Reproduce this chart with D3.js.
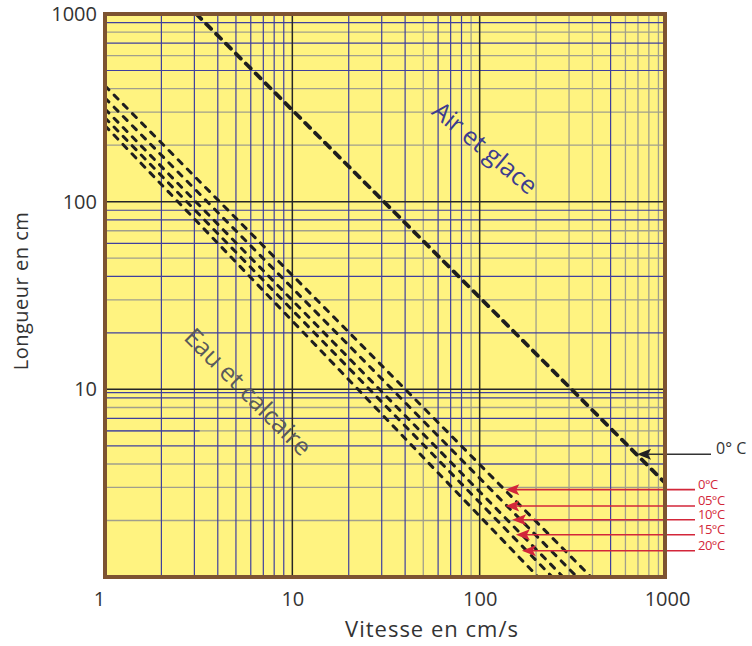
<!DOCTYPE html>
<html>
<head>
<meta charset="utf-8">
<script src="https://cdn.jsdelivr.net/npm/d3@7"></script>
<style>
  body { margin: 0; background: #fff; }
  svg text { font-family: "Open Sans", "DejaVu Sans", sans-serif; }
</style>
</head>
<body>
<svg id="chart" width="752" height="646"></svg>
<script>
'use strict';

// axis ticks
const xTicks = [1, 10, 100, 1000];
const yTicks = [10, 100, 1000];

// grid lines, grouped by the colour they are printed in
const vGridBlack = [10, 100];
const vGridBlue = [2, 3, 4, 5, 6, 7, 8, 9, 20, 30, 40, 60, 70, 80, 500];
const vGridGrey = [50, 90, 200, 300, 400, 600, 700, 800, 900];
const hGridBlack = [10, 100];
const hGridBlue = [9.6, 9, 7, 5, 90, 80, 60, 40, 20, 900, 700, 500];
const hGridGrey = [8, 6, 4, 3, 2, 70, 50, 30, 800, 600, 400, 300, 200];
const hGridBlueParts = [[6, 1, 3.2], [4, 100, 1000]]; // [length, from speed, to speed]

// "Air et glace" line : two ends
const airSpeeds = [3.07, 1000];
const airLengths = [1000, 3.1];
const airArrowSpeed = 692;
const airArrowLength = 4.51;
const airArrowLabel = '0° C';

// "Eau et calcaire" lines, one per temperature
const waterTemps = ['0°C', '05°C', '10°C', '15°C', '20°C'];
const waterLenAtV1 = [414, 357, 312, 280, 254];
const waterSpeedAtL1 = [393, 331, 279, 244, 205];
const arrowSpeeds = [137, 137, 149, 156, 168];
const arrowLengths = [2.92, 2.39, 2.02, 1.68, 1.38];

const plot = {left: 105, right: 667, top: 14, bottom: 577};

const svg = d3.select('#chart');

let x = d3.scaleLog().domain([1, 1000]).range([plot.left, plot.right]);
let y = d3.scaleLog().domain([1, 1000]).range([plot.bottom, plot.top]);

svg.append('defs').append('clipPath').attr('id', 'plotClip')
  .append('rect')
  .attr('x', plot.left).attr('y', plot.top)
  .attr('width', plot.right - plot.left).attr('height', plot.bottom - plot.top);

svg.append('rect')
  .attr('x', plot.left).attr('y', plot.top)
  .attr('width', plot.right - plot.left).attr('height', plot.bottom - plot.top)
  .attr('fill', '#fff380');

let grid = svg.append('g').attr('clip-path', 'url(#plotClip)');

function vLines(values, colour, width){
  grid.selectAll(null).data(values).enter().append('line')
    .attr('x1', d => x(d)).attr('x2', d => x(d))
    .attr('y1', plot.top).attr('y2', plot.bottom)
    .attr('stroke', colour).attr('stroke-width', width);
}

function hLines(values, colour, width){
  grid.selectAll(null).data(values).enter().append('line')
    .attr('y1', d => y(d)).attr('y2', d => y(d))
    .attr('x1', plot.left).attr('x2', plot.right)
    .attr('stroke', colour).attr('stroke-width', width);
}

vLines(vGridGrey, '#a19f8c', 1.3);
hLines(hGridGrey, '#a19f8c', 1.3);
vLines(vGridBlue, '#3f3f9e', 1.2);
hLines(hGridBlue, '#3f3f9e', 1.2);

grid.selectAll(null).data(hGridBlueParts).enter().append('line')
  .attr('y1', d => y(d[0])).attr('y2', d => y(d[0]))
  .attr('x1', d => x(d[1])).attr('x2', d => x(d[2]))
  .attr('stroke', '#3f3f9e').attr('stroke-width', 1.2);

vLines(vGridBlack, '#262626', 1.5);
hLines(hGridBlack, '#262626', 1.5);

// curves
let curves = svg.append('g').attr('clip-path', 'url(#plotClip)');
let line = d3.line().x(d => x(d[0])).y(d => y(d[1]));

curves.append('path')
  .datum(airSpeeds.map((v, i) => [v, airLengths[i]]))
  .attr('d', line)
  .attr('fill', 'none')
  .attr('stroke', '#1e1e1e')
  .attr('stroke-width', 3.8)
  .attr('stroke-linecap', 'round')
  .attr('stroke-dasharray', '7,7');

curves.selectAll('.water').data(waterTemps).enter().append('path')
  .attr('class', 'water')
  .attr('d', (t, i) => line([[1, waterLenAtV1[i]], [waterSpeedAtL1[i], 1]]))
  .attr('fill', 'none')
  .attr('stroke', '#1e1e1e')
  .attr('stroke-width', 3)
  .attr('stroke-linecap', 'round')
  .attr('stroke-dasharray', '5.5,7.5');

// labels inside the plot
svg.append('text')
  .attr('transform', 'translate(486,147) rotate(40)')
  .attr('text-anchor', 'middle')
  .attr('dominant-baseline', 'central')
  .attr('font-size', 25)
  .attr('fill', '#3d3d8f')
  .text('Air et glace');

svg.append('text')
  .attr('transform', 'translate(249,391) rotate(45)')
  .attr('text-anchor', 'middle')
  .attr('dominant-baseline', 'central')
  .attr('font-size', 25)
  .attr('fill', '#5a5a5a')
  .text('Eau et calcaire');

// red temperature arrows
let labelX = plot.right + 31;
let arrows = svg.append('g');
waterTemps.forEach(function(t, i){
  let tx = x(arrowSpeeds[i]);
  let ty = y(arrowLengths[i]);
  arrows.append('line')
    .attr('x1', tx + 8).attr('x2', labelX - 3)
    .attr('y1', ty).attr('y2', ty)
    .attr('stroke', '#d3263a').attr('stroke-width', 1.6);
  arrows.append('path')
    .attr('d', 'M' + tx + ',' + ty + 'l14,-5.5l-3,5.5l3,5.5z')
    .attr('fill', '#d3263a');
  arrows.append('text')
    .attr('x', labelX).attr('y', ty - 1)
    .attr('font-size', 13)
    .attr('letter-spacing', -0.5)
    .attr('fill', '#d3263a')
    .text(t);
});

// black arrow for air line
let ax = x(airArrowSpeed);
let ay = y(airArrowLength);
svg.append('line')
  .attr('x1', ax + 8).attr('x2', labelX + 13)
  .attr('y1', ay).attr('y2', ay)
  .attr('stroke', '#333').attr('stroke-width', 1.5);
svg.append('path')
  .attr('d', 'M' + ax + ',' + ay + 'l14,-5.5l-3,5.5l3,5.5z')
  .attr('fill', '#222');
svg.append('text')
  .attr('x', labelX + 18).attr('y', ay)
  .attr('font-size', 16)
  .attr('fill', '#333')
  .text(airArrowLabel);

// frame
svg.append('rect')
  .attr('x', plot.left).attr('y', plot.top)
  .attr('width', plot.right - 2 - plot.left).attr('height', plot.bottom - plot.top)
  .attr('fill', 'none')
  .attr('stroke', '#7d5331')
  .attr('stroke-width', 4);

// axes
let xAxis = svg.append('g')
  .attr('transform', 'translate(0,' + plot.bottom + ')')
  .call(d3.axisBottom(x).tickValues(xTicks).tickFormat(d3.format('d')).tickSize(0).tickPadding(15));
let yAxis = svg.append('g')
  .attr('transform', 'translate(' + plot.left + ',0)')
  .call(d3.axisLeft(y).tickValues(yTicks).tickFormat(d3.format('d')).tickSize(0).tickPadding(8));

[xAxis, yAxis].forEach(function(a){
  a.select('.domain').remove();
  a.selectAll('text')
    .attr('font-size', 20)
    .attr('fill', '#333')
    .style('font-family', '"Open Sans", sans-serif');
});
xAxis.selectAll('.tick').filter(d => d === 1).select('text').attr('x', -6);

svg.append('text')
  .attr('x', 432).attr('y', 637)
  .attr('text-anchor', 'middle')
  .attr('font-size', 22)
  .attr('letter-spacing', 1)
  .attr('fill', '#333')
  .text('Vitesse en cm/s');

svg.append('text')
  .attr('transform', 'translate(28,291) rotate(-90)')
  .attr('text-anchor', 'middle')
  .attr('font-size', 20)
  .attr('letter-spacing', 0.5)
  .attr('fill', '#333')
  .text('Longueur en cm');
</script>
</body>
</html>
